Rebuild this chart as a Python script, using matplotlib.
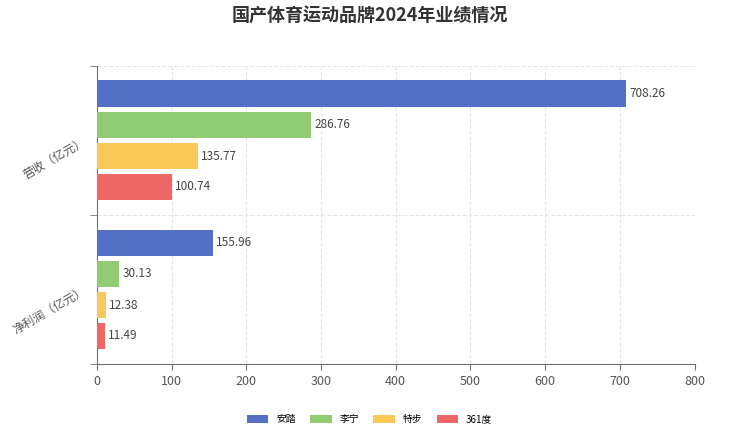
import matplotlib.pyplot as plt
from matplotlib import font_manager as fm
import numpy as np

# register a CJK font file explicitly
cjk_name = None
for f in fm.findSystemFonts():
    if "NotoSansCJK" in f.replace(" ", "") or "NotoSansSC" in f.replace(" ", ""):
        try:
            fm.fontManager.addfont(f)
            cjk_name = fm.FontProperties(fname=f).get_name()
            break
        except Exception:
            pass
plt.rcParams["font.family"] = "sans-serif"
plt.rcParams["font.sans-serif"] = [n for n in [cjk_name, "Noto Sans CJK SC", "Noto Sans CJK JP"] if n] + ["DejaVu Sans"]

categories = ["营收（亿元）", "净利润（亿元）"]
brands = ["安踏", "李宁", "特步", "361度"]
values = {
    "安踏": [708.26, 155.96],
    "李宁": [286.76, 30.13],
    "特步": [135.77, 12.38],
    "361度": [100.74, 11.49],
}
colors = ["#5470c6", "#91cc75", "#fac858", "#ee6666"]

fig = plt.figure(figsize=(7.39, 4.42), dpi=100)
ax = fig.add_axes([0.131, 0.176, 0.809, 0.675])

offsets = [-0.315, -0.105, 0.105, 0.31]
h = 0.175
y = np.arange(len(categories))
for i, b in enumerate(brands):
    bars = ax.barh(y + offsets[i], values[b], height=h, color=colors[i], label=b, zorder=3)
    for rect, v in zip(bars, values[b]):
        ax.text(rect.get_width() + 4, rect.get_y() + rect.get_height() / 2, f"{v:.2f}",
                va="center", ha="left", fontsize=8.5, color="#444444")

ax.set_ylim(1.5, -0.5)
ax.set_xlim(0, 800)
ax.set_xticks(range(0, 801, 100))
ax.set_yticks(y)
ax.set_yticklabels(categories, rotation=30, fontsize=8.5, color="#555555")
ax.set_yticks([-0.5, 0.5, 1.5], minor=True)
ax.tick_params(axis="y", which="major", length=0, pad=6)
ax.tick_params(axis="y", which="minor", length=5, color="#6e7079")
ax.tick_params(axis="x", length=4, color="#6e7079", labelsize=9, labelcolor="#555555")
ax.grid(True, which="major", axis="x", linestyle="--", color="#e0e6f1", zorder=0)
ax.grid(True, which="minor", axis="y", linestyle="--", color="#e0e6f1", zorder=0)
for s in ["top", "right"]:
    ax.spines[s].set_visible(False)
ax.spines["bottom"].set_color("#6e7079")
ax.spines["left"].set_color("#6e7079")

fig.suptitle("国产体育运动品牌2024年业绩情况", x=0.5, y=0.985, fontsize=13, fontweight="bold", color="#333333")
fig.legend(loc="lower center", bbox_to_anchor=(0.5, 0.02), ncol=4, frameon=False,
           fontsize=7, handlelength=2.2, handleheight=0.9, columnspacing=1.5)

fig.savefig("out.png", dpi=100)
